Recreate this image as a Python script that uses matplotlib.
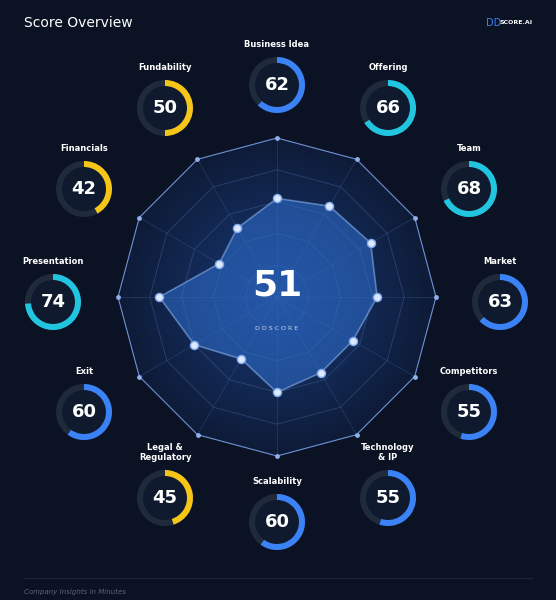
import numpy as np
import matplotlib
matplotlib.use("Agg")
import matplotlib.pyplot as plt
from matplotlib.patches import Wedge, Circle, Polygon

categories = ["Business Idea", "Offering", "Team", "Market", "Competitors", "Technology\n& IP",
              "Scalability", "Legal &\nRegulatory", "Exit", "Presentation", "Financials", "Fundability"]
scores = [62, 66, 68, 63, 55, 55, 60, 45, 60, 74, 42, 50]
overall = 51

# gauge layout (pixel centres)
gpos = [(277, 85), (388, 108), (469, 189), (500, 302), (469, 412), (388, 498),
        (277, 522), (165, 498), (84, 412), (53, 302), (84, 189), (165, 108)]

BG = "#0b1224"
fig = plt.figure(figsize=(5.56, 6.0), dpi=100, facecolor=BG)
ax = fig.add_axes([0, 0, 1, 1])
ax.set_xlim(0, 556); ax.set_ylim(600, 0); ax.set_aspect("equal"); ax.axis("off")
ax.set_facecolor(BG)

cx, cy, R = 277, 297, 159
n = len(categories)
ang = np.deg2rad(90 - np.arange(n) * 360 / n)

def pt(r):
    return cx + r * np.cos(ang), cy - r * np.sin(ang)

# glow
ox, oy = pt(R)
outer = Polygon(np.c_[ox, oy], closed=True, facecolor="none", edgecolor="none")
ax.add_patch(outer)
yy, xx = np.mgrid[cy - R:cy + R:300j, cx - R:cx + R:300j]
d = np.hypot(xx - cx, yy - cy) / R
img = np.zeros((300, 300, 4))
img[..., 0], img[..., 1], img[..., 2] = 0.12, 0.30, 0.62
img[..., 3] = np.clip(0.55 * (1 - d) + 0.15, 0, 1)
im = ax.imshow(img, extent=(cx - R, cx + R, cy + R, cy - R), zorder=1)
im.set_clip_path(outer)

for k in [0.2, 0.4, 0.6, 0.8]:
    gx, gy = pt(R * k)
    ax.add_patch(Polygon(np.c_[gx, gy], closed=True, fill=False, edgecolor="#3b5a8f", lw=0.6, alpha=0.6, zorder=2))
for i in range(n):
    ax.plot([cx, ox[i]], [cy, oy[i]], color="#3b5a8f", lw=0.5, alpha=0.5, zorder=2)
ax.add_patch(Polygon(np.c_[ox, oy], closed=True, fill=False, edgecolor="#6f93d6", lw=0.8, zorder=3))
ax.scatter(ox, oy, s=6, color="#8fb0ea", zorder=4)

vx, vy = pt(np.array(scores) / 100 * R)
ax.add_patch(Polygon(np.c_[vx, vy], closed=True, facecolor="#2f6fd0", alpha=0.55, edgecolor="#8fb8f5", lw=1.2, zorder=5))
ax.scatter(vx, vy, s=34, color="#dde9ff", edgecolor="#7fa8ee", lw=1, zorder=6)

ax.text(cx, cy - 12, str(overall), color="white", fontsize=26, fontweight="bold", ha="center", va="center", zorder=7)
ax.text(cx, cy + 31, "D D S C O R E", color="#c8d4ea", fontsize=4.5, ha="center", va="center", zorder=7)

def col(v):
    if v <= 50: return "#f5c518"
    if v >= 65: return "#22c5e0"
    return "#3b82f6"

for name, v, (gx, gy) in zip(categories, scores, gpos):
    ax.add_patch(Circle((gx, gy), 28, facecolor="#0f1a2e", edgecolor="none", zorder=3))
    ax.add_patch(Wedge((gx, gy), 28, 0, 360, width=6, facecolor="#1f2a3b", edgecolor="none", zorder=4))
    # y axis inverted: angles go clockwise visually when increasing from 270 (top)
    ax.add_patch(Wedge((gx, gy), 28, -90, -90 + 360 * v / 100, width=6, facecolor=col(v), edgecolor="none", zorder=5))
    ax.text(gx, gy, str(v), color="white", fontsize=13, fontweight="bold", ha="center", va="center", zorder=6)
    ax.text(gx, gy - 36, name, color="white", fontsize=6, fontweight="bold", ha="center", va="bottom",
            linespacing=1.1, zorder=6)

ax.text(24, 23, "Score Overview", color="white", fontsize=10, ha="left", va="center")
ax.text(486, 23, "DD", color="#3b82f6", fontsize=7, ha="left", va="center")
ax.text(499, 23, "SCORE.AI", color="white", fontsize=4.5, fontweight="bold", ha="left", va="center")
ax.plot([24, 532], [578, 578], color="#1c2638", lw=0.8)
ax.text(24, 592, "Company Insights in Minutes", color="#5b6678", fontsize=5, style="italic", ha="left", va="center")

fig.savefig("out.png", dpi=100, facecolor=BG)
